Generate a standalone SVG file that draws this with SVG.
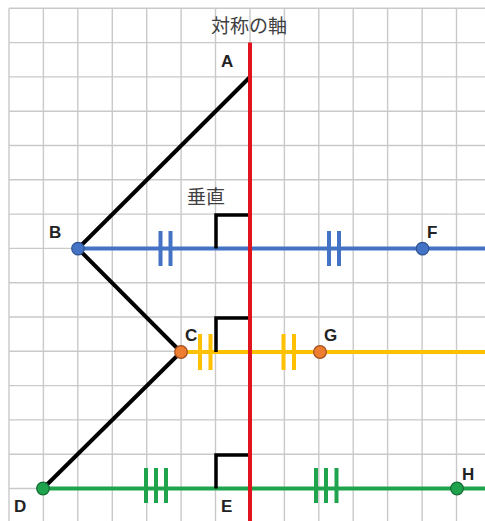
<svg xmlns="http://www.w3.org/2000/svg" width="485" height="521" viewBox="0 0 485 521">
<style>
.grid{stroke:#c9c9c9;stroke-width:1.4;fill:none}
.seg{stroke:#000;stroke-width:4;fill:none;stroke-linecap:round}
.ra{stroke:#000;stroke-width:3.5;fill:none}
.lbl{font-family:"Liberation Sans",Arial,sans-serif;font-weight:bold;font-size:17px;fill:#222}
.jp{font-family:"Noto Sans CJK JP","Noto Sans",sans-serif;font-size:19px;fill:#404040}
.blue{stroke:#4472C4}
.yel{stroke:#FFC000}
.grn{stroke:#1FA34D}
.line{stroke-width:4;fill:none}
.tick{stroke-width:4;fill:none}
</style>
<rect width="485" height="521" fill="#fff"/>
<g id="grid" class="grid">
<path d="M9 8.3V521M43.4 8.3V521M77.8 8.3V521M112.3 8.3V521M146.7 8.3V521M181.1 8.3V521M215.5 8.3V521M250 8.3V521M284.4 8.3V521M318.8 8.3V521M353.2 8.3V521M387.6 8.3V521M422.1 8.3V521M456.5 8.3V521"/>
<path d="M9 8.3H485M9 42.6H485M9 76.9H485M9 111.2H485M9 145.5H485M9 179.8H485M9 214.1H485M9 248.4H485M9 282.7H485M9 317H485M9 351.3H485M9 385.6H485M9 419.9H485M9 454.2H485M9 488.5H485"/>
</g>
<g id="connectors">
<path class="line blue" d="M78 248.6H485"/>
<path class="line yel" d="M181 352H485"/>
<path class="line grn" d="M43 488.5H485"/>
<path class="seg" d="M250 77L78 248.6L181 352L43 488.5"/>
<path class="ra" d="M216 248.6V215H250"/>
<path class="ra" d="M216 352V318H250"/>
<path class="ra" d="M216 488.5V455H250"/>
<path class="tick blue" d="M160.5 231V266M170.5 231V266M329 231V266M339 231V266"/>
<path class="tick yel" d="M200 334V370M210.5 334V370M283.5 334V370M294 334V370"/>
<path class="tick grn" d="M146 468V503M156 468V503M166 468V503M316 468V503M326 468V503M336.5 468V503"/>
<path d="M250 42.6V521" stroke="#E0141E" stroke-width="4" fill="none"/>
</g>
<g id="axis-label"><text class="jp" x="249" y="33" text-anchor="middle">対称の軸</text></g>
<g id="perp-label"><text class="jp" x="187" y="204">垂直</text></g>
<g id="A"><text class="lbl" x="221" y="67">A</text></g>
<g id="B"><circle cx="78" cy="248.6" r="6.3" fill="#4472C4" stroke="#2F528F" stroke-width="1.2"/><text class="lbl" x="49" y="238">B</text></g>
<g id="C"><circle cx="181" cy="352" r="6.3" fill="#ED7D31" stroke="#9E4E1A" stroke-width="1.2"/><text class="lbl" x="185" y="341">C</text></g>
<g id="D"><circle cx="43" cy="488.5" r="6.3" fill="#1FA34D" stroke="#146B33" stroke-width="1.2"/><text class="lbl" x="14" y="512">D</text></g>
<g id="E"><text class="lbl" x="221" y="512">E</text></g>
<g id="F"><circle cx="422.5" cy="248.6" r="6.3" fill="#4472C4" stroke="#2F528F" stroke-width="1.2"/><text class="lbl" x="427" y="238">F</text></g>
<g id="G"><circle cx="320" cy="352" r="6.3" fill="#ED7D31" stroke="#9E4E1A" stroke-width="1.2"/><text class="lbl" x="324" y="341">G</text></g>
<g id="H"><circle cx="457" cy="488.5" r="6.3" fill="#1FA34D" stroke="#146B33" stroke-width="1.2"/><text class="lbl" x="462" y="480">H</text></g>
</svg>
